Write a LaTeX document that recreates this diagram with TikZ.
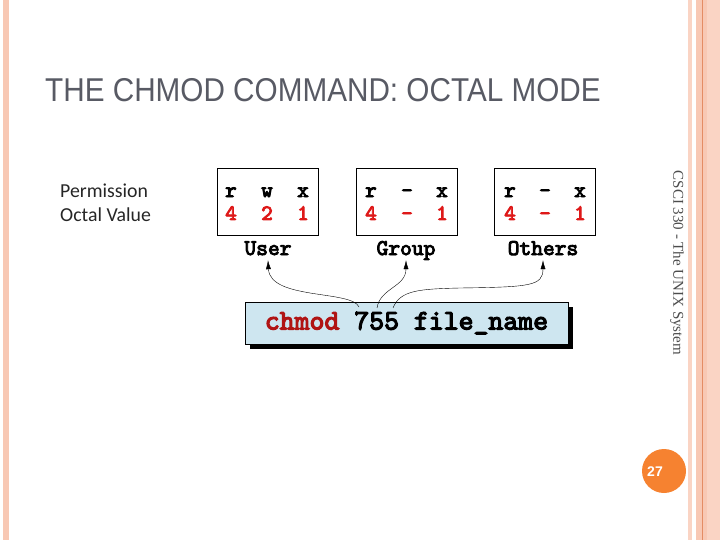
\documentclass[tikz,border=0pt]{standalone}
\usepackage{fontspec}
\setmainfont{Liberation Sans}
\newfontfamily\sidefont{Carlito}
\newfontfamily\footfont{Liberation Serif}
\newfontfamily\codefont{lmmono10-regular.otf}[FakeBold=4]
\usetikzlibrary{arrows.meta,shadows}

\definecolor{stripe}{RGB}{248,200,180}
\definecolor{stripelight}{RGB}{250,212,196}
\definecolor{stripeline}{RGB}{228,140,100}
\definecolor{titlegray}{RGB}{88,90,100}
\definecolor{bitred}{RGB}{222,24,24}
\definecolor{chmodred}{RGB}{176,20,20}
\definecolor{cmdblue}{RGB}{206,230,240}
\definecolor{dotorange}{RGB}{246,130,48}

\begin{document}
\begin{tikzpicture}[x=1pt, y=-1pt, >={Latex[length=9pt,width=5pt]},
  permbox/.style={draw, line width=0.8pt, minimum width=101pt, minimum height=67pt},
  bit/.style={font=\codefont\fontsize{22}{22}\selectfont, anchor=base, inner sep=0pt},
  val/.style={bit, text=bitred},
  who/.style={font=\codefont\fontsize{22.4}{22.4}\selectfont, anchor=base,
              inner sep=1pt, text height=12pt, text depth=4pt}]
  \useasboundingbox (0,0) rectangle (720,540);
  % slide frame
  \fill[stripe] (3,0) rectangle (9,540);
  \fill[stripelight] (688,0) rectangle (692,540);
  \fill[stripe] (696,0) rectangle (720,540);
  \fill[stripelight] (707,0) rectangle (720,540);
  \draw[stripeline, line width=1pt] (702,0) -- (702,540);

  \node[anchor=base west, inner sep=0pt, xscale=0.9, text=titlegray, font=\fontsize{33}{33}\selectfont]
    (title) at (45,102) {THE CHMOD COMMAND: OCTAL MODE};

  \node[anchor=base west, inner sep=0pt, text=black!85, font=\sidefont\fontsize{19.8}{20}\selectfont]
    (permtxt) at (60,197) {Permission};
  \node[anchor=base west, inner sep=0pt, text=black!85, font=\sidefont\fontsize{19.8}{20}\selectfont]
    (octtxt) at (60,222) {Octal Value};

  % the three permission groups
  \node[permbox] (userbox) at (267.5,201.5) {};
  \node[bit] (ur) at (231,197) {r};
  \node[bit] (uw) at (267,197) {w};
  \node[bit] (ux) at (303,197) {x};
  \node[val] (u4) at (231,220) {4};
  \node[val] (u2) at (267,220) {2};
  \node[val] (u1) at (303,220) {1};

  \node[permbox] (groupbox) at (407,201.5) {};
  \node[bit] (gr) at (371,197) {r};
  \node[bit] (gw) at (407,197) {-};
  \node[bit] (gx) at (442,197) {x};
  \node[val] (g4) at (371,220) {4};
  \node[val] (g2) at (407,220) {-};
  \node[val] (g1) at (442,220) {1};

  \node[permbox] (otherbox) at (545,201.5) {};
  \node[bit] (or) at (510,197) {r};
  \node[bit] (ow) at (545,197) {-};
  \node[bit] (ox) at (580,197) {x};
  \node[val] (o4) at (510,220) {4};
  \node[val] (o2) at (545,220) {-};
  \node[val] (o1) at (580,220) {1};

  \node[who] (user) at (268,255) {User};
  \node[who] (group) at (406,255) {Group};
  \node[who] (others) at (543,255) {Others};

  % command line
  \node[draw, line width=0.8pt, fill=cmdblue, minimum width=323pt, minimum height=42pt,
        drop shadow={shadow xshift=5pt, shadow yshift=-5pt, opacity=1, fill=black},
        font=\codefont\fontsize{28.4}{28.4}\selectfont]
    (cmd) at (406.5,323) {\textcolor{chmodred}{chmod} 755 file\_name};
  \coordinate (d7) at (359,307);
  \coordinate (d5a) at (377,308);
  \coordinate (d5b) at (393,308);

  \draw[->] (d7) .. controls (352,290) and (270,300) .. (user.south);
  \draw[->] (d5a) .. controls (380,288) and (406,287) .. (group.south);
  \draw[->] (d5b) .. controls (400,290) and (420,289) .. (460,288)
                  .. controls (530,287) and (543,286) .. (others.south);

  \node[rotate=-90, text=black!70, font=\footfont\fontsize{15}{15}\selectfont]
    (course) at (677,263) {CSCI 330 - The UNIX System};

  \node[circle, fill=dotorange, minimum size=44pt, inner sep=0pt] (pagedot) at (664,471) {};
  \node[text=white, font=\bfseries\fontsize{14}{14}\selectfont] (pagenum) at (655,472) {27};
\end{tikzpicture}
\end{document}
